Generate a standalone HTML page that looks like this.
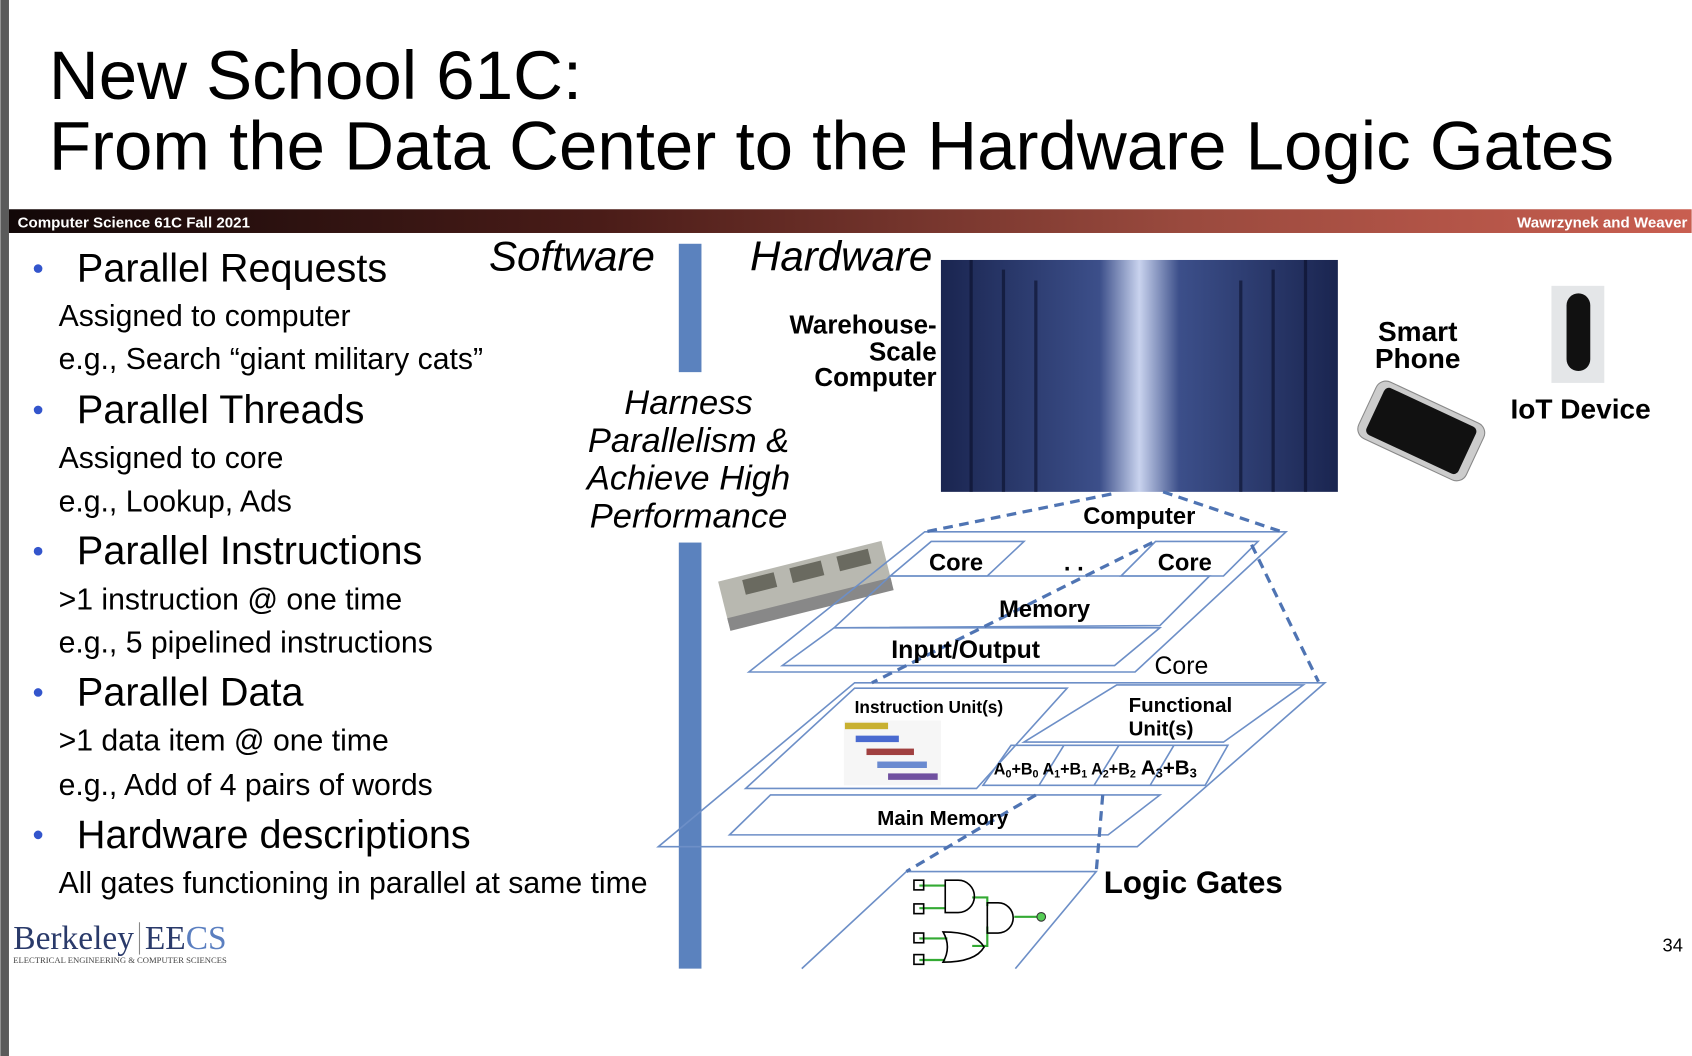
<!DOCTYPE html>
<html><head><meta charset="utf-8"><style>
html,body{margin:0;padding:0;background:#fff;overflow:hidden}
svg{display:block}
</style></head><body>
<svg width="1692" height="1056" viewBox="0 0 1568 979" xmlns="http://www.w3.org/2000/svg" font-family="Liberation Sans, sans-serif">
<defs>
<linearGradient id="bar" x1="0" x2="1"><stop offset="0" stop-color="#120808"/><stop offset="0.35" stop-color="#4a1c18"/><stop offset="0.7" stop-color="#9a4a3e"/><stop offset="1" stop-color="#c95e50"/></linearGradient>
<linearGradient id="dc" x1="0" x2="1"><stop offset="0" stop-color="#1a2550"/><stop offset="0.4" stop-color="#3c4f8a"/><stop offset="0.5" stop-color="#c9d3ee"/><stop offset="0.6" stop-color="#3c4f8a"/><stop offset="1" stop-color="#1a2550"/></linearGradient>
</defs>
<rect x="0" y="0" width="8" height="979" fill="#5a5a5a"/>
<text x="45" y="92" font-size="64" fill="#000">New School 61C:</text>
<text x="45" y="157" font-size="64" fill="#000">From the Data Center to the Hardware Logic Gates</text>
<rect x="8" y="194" width="1560" height="22" fill="url(#bar)"/>
<text x="16" y="211" font-size="14" font-weight="bold" fill="#fff">Computer Science 61C Fall 2021</text>
<text x="1564" y="211" font-size="14" font-weight="bold" fill="#fff" text-anchor="end">Wawrzynek and Weaver</text>

<g fill="#000">
<g fill="#3355cc"><circle cx="35" cy="249" r="4"/><circle cx="35" cy="380" r="4"/><circle cx="35" cy="511" r="4"/><circle cx="35" cy="642" r="4"/><circle cx="35" cy="774" r="4"/></g>
<g font-size="36.7"><text x="71" y="261">Parallel Requests</text><text x="71" y="392">Parallel Threads</text><text x="71" y="523">Parallel Instructions</text><text x="71" y="654">Parallel Data</text><text x="71" y="786">Hardware descriptions</text></g>
<g font-size="28"><text x="54" y="302">Assigned to computer</text><text x="54" y="342">e.g., Search “giant military cats”</text>
<text x="54" y="434">Assigned to core</text><text x="54" y="474">e.g., Lookup, Ads</text>
<text x="54" y="565">&gt;1 instruction @ one time</text><text x="54" y="605">e.g., 5 pipelined instructions</text>
<text x="54" y="696">&gt;1 data item @ one time</text><text x="54" y="737">e.g., Add of 4 pairs of words</text>
<text x="54" y="828">All gates functioning in parallel at same time</text></g>
</g>
<text x="453" y="251" font-size="39" font-style="italic">Software</text>
<text x="695" y="251" font-size="39" font-style="italic">Hardware</text>
<rect x="629" y="226" width="21" height="119" fill="#5b82be"/>
<rect x="629" y="503" width="21" height="395" fill="#5b82be"/>
<g font-size="32" font-style="italic" text-anchor="middle"><text x="638" y="384">Harness</text><text x="638" y="419">Parallelism &amp;</text><text x="638" y="454">Achieve High</text><text x="638" y="489">Performance</text></g>
<g font-size="24" font-weight="bold" text-anchor="end"><text x="868" y="309">Warehouse-</text><text x="868" y="334">Scale</text><text x="868" y="358">Computer</text></g>

<rect x="872" y="241" width="368" height="215" fill="url(#dc)"/>
<g stroke="#0a0f2a" stroke-width="3" opacity="0.6"><line x1="900" y1="241" x2="900" y2="456"/><line x1="930" y1="250" x2="930" y2="456"/><line x1="960" y1="260" x2="960" y2="456"/><line x1="1150" y1="260" x2="1150" y2="456"/><line x1="1180" y1="250" x2="1180" y2="456"/><line x1="1210" y1="241" x2="1210" y2="456"/></g>

<g font-size="26" font-weight="bold" text-anchor="middle"><text x="1314" y="316">Smart</text><text x="1314" y="341">Phone</text></g>
<g transform="rotate(25 1316 400)"><rect x="1262" y="370" width="110" height="58" rx="10" fill="#ccc" stroke="#888"/><rect x="1270" y="375" width="94" height="48" rx="5" fill="#111"/></g>
<rect x="1438" y="265" width="49" height="90" fill="#e4e6e8"/><rect x="1452" y="272" width="22" height="72" rx="11" fill="#111"/>
<text x="1400" y="388" font-size="26" font-weight="bold">IoT Device</text>

<g transform="rotate(-14 745 540)"><rect x="668" y="520" width="156" height="40" fill="#b8b8b0"/><rect x="690" y="524" width="30" height="14" fill="#6a6a60"/><rect x="735" y="524" width="30" height="14" fill="#6a6a60"/><rect x="780" y="524" width="30" height="14" fill="#6a6a60"/><rect x="668" y="555" width="156" height="12" fill="#888"/></g>

<g fill="none" stroke="#6d8fc7" stroke-width="1.5">
<polygon points="857,493 1192,493 1052,623 694,623"/>
<polygon points="863,502 949,502 915,534 825,534"/>
<polygon points="1071,502 1166,502 1134,534 1039,534"/>
<polygon points="825,534 1121,534 1075,580 773,582"/>
<polygon points="773,582 1075,582 1033,617 725,617"/>
<polygon points="792,633 1228,633 1054,785 610,785"/>
<polygon points="792,638 989,638 905,731 691,731"/>
<polygon points="1035,635 1208,635 1134,688 949,688"/>
<polygon points="937,691 1138,691 1117,728 911,728"/>
<line x1="986" y1="691" x2="963" y2="728"/><line x1="1037" y1="691" x2="1014" y2="728"/><line x1="1088" y1="691" x2="1066" y2="728"/>
<polygon points="714,737 1075,737 1027,774 676,774"/>
<polyline points="743,898 840,808 1016,808 941,898"/>
</g>
<g fill="none" stroke="#4f74b3" stroke-width="3" stroke-dasharray="9,6">
<line x1="1030" y1="458" x2="858" y2="493"/><line x1="1078" y1="456" x2="1188" y2="493"/>
<line x1="1160" y1="505" x2="1222" y2="632"/><line x1="1068" y1="503" x2="808" y2="633"/>
<line x1="960" y1="737" x2="840" y2="808"/><line x1="1022" y1="737" x2="1016" y2="808"/>
</g>
<g font-weight="bold" fill="#000">
<text x="1004" y="486" font-size="22">Computer</text>
<text x="861" y="529" font-size="22">Core</text><text x="1073" y="529" font-size="22">Core</text>
<text x="986" y="529" font-size="22">. .</text>
<text x="926" y="572" font-size="22">Memory</text>
<text x="826" y="610" font-size="23">Input/Output</text>
<text x="792" y="661" font-size="16">Instruction Unit(s)</text>
<text x="1046" y="660" font-size="19">Functional</text><text x="1046" y="682" font-size="19">Unit(s)</text>
<text x="921" y="718" font-size="15">A<tspan font-size="10" dy="3">0</tspan><tspan dy="-3">+B</tspan><tspan font-size="10" dy="3">0</tspan><tspan dy="-3"> A</tspan><tspan font-size="10" dy="3">1</tspan><tspan dy="-3">+B</tspan><tspan font-size="10" dy="3">1</tspan><tspan dy="-3"> A</tspan><tspan font-size="10" dy="3">2</tspan><tspan dy="-3">+B</tspan><tspan font-size="10" dy="3">2</tspan><tspan dy="-3" font-size="19"> A</tspan><tspan font-size="12" dy="3">3</tspan><tspan dy="-3" font-size="19">+B</tspan><tspan font-size="12" dy="3">3</tspan></text>
<text x="813" y="765" font-size="19">Main Memory</text>
<text x="1023" y="828" font-size="29">Logic Gates</text>
</g>
<text x="1070" y="625" font-size="23">Core</text>
<g><rect x="782" y="668" width="90" height="60" fill="#f6f6f6"/>
<rect x="783" y="670" width="40" height="6" fill="#c8b030"/><rect x="793" y="682" width="40" height="6" fill="#4a6ad0"/><rect x="803" y="694" width="44" height="6" fill="#a04040"/><rect x="813" y="706" width="46" height="6" fill="#6a8ad0"/><rect x="823" y="717" width="46" height="6" fill="#7050a0"/></g>
<g fill="none" stroke="#33aa33" stroke-width="2"><path d="M852 821h24M852 842h24M901 832h14v8M901 877h14v-18M852 870h26M852 890h24M940 850h22"/></g>
<g fill="none" stroke="#000" stroke-width="1.5"><path d="M876 816h12a15 15 0 0 1 0 30h-12z"/><path d="M915 837h10a14 14 0 0 1 0 28h-10z"/><path d="M874 864q30 0 38 14q-8 14-38 14q8-14 0-28z"/>
<rect x="847" y="816" width="9" height="9"/><rect x="847" y="838" width="9" height="9"/><rect x="847" y="865" width="9" height="9"/><rect x="847" y="885" width="9" height="9"/></g>
<circle cx="965" cy="850" r="4" fill="#55cc55" stroke="#333"/>
<text x="1541" y="882" font-size="17">34</text>
<text x="12" y="880" font-size="31" font-family="Liberation Serif, serif" fill="#2a3a6a">Berkeley</text>
<line x1="129" y1="855" x2="129" y2="885" stroke="#888"/>
<text x="134" y="880" font-size="31" font-family="Liberation Serif, serif" fill="#2a3a6a">EE<tspan fill="#5b7fc0">CS</tspan></text>
<text x="12" y="893" font-size="8" font-family="Liberation Serif, serif" fill="#444">ELECTRICAL ENGINEERING &amp; COMPUTER SCIENCES</text>
</svg>
</body></html>
